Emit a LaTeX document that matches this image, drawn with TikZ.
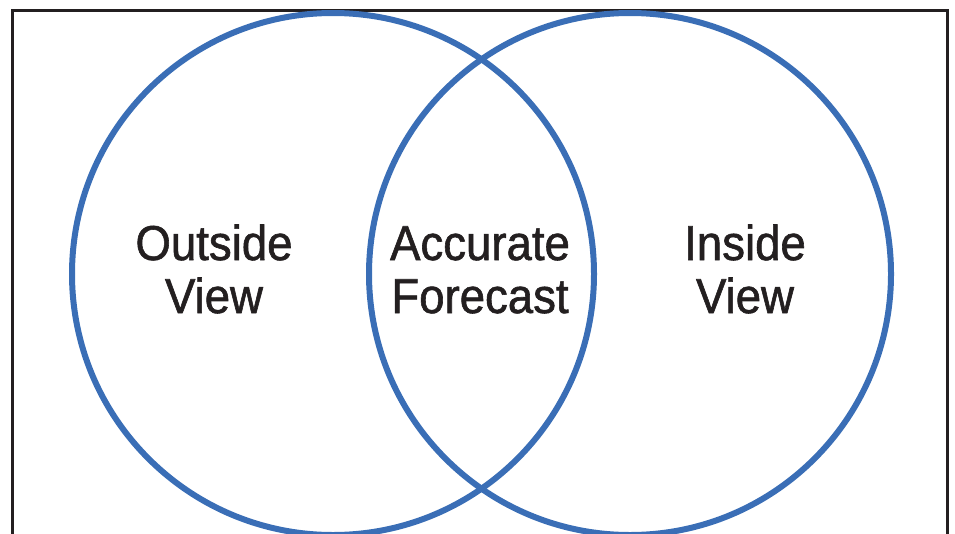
\documentclass[tikz,border=0pt]{standalone}
\usepackage{fontspec}
\setmainfont{Liberation Sans}[FakeStretch=0.93,FakeBold=1.2]
\definecolor{vennblue}{RGB}{58,110,182}
\definecolor{inkdark}{RGB}{35,31,32}
\begin{document}
\begin{tikzpicture}[x=1pt,y=-1pt,
  venn/.style={circle,draw=vennblue,line width=6pt,minimum size=522pt,inner sep=0pt},
  lbl/.style={anchor=base,text=inkdark,inner sep=0pt,font=\fontsize{49}{53}\selectfont}]
\useasboundingbox (0,0) rectangle (955,533);
\begin{scope}
\clip (0,0) rectangle (955,533);
\draw[inkdark,line width=3pt] (12.5,10.5) rectangle (947.5,560);
\node[venn] (left) at (333,274) {};
\node[venn] (right) at (630,274) {};
\end{scope}
\node[lbl] (o1) at (214,260) {Outside};
\node[lbl] (o2) at (214,313) {View};
\node[lbl] (a1) at (480,260) {Accurate};
\node[lbl] (a2) at (480,313) {Forecast};
\node[lbl] (i1) at (745,260) {Inside};
\node[lbl] (i2) at (745,313) {View};
\end{tikzpicture}
\end{document}
